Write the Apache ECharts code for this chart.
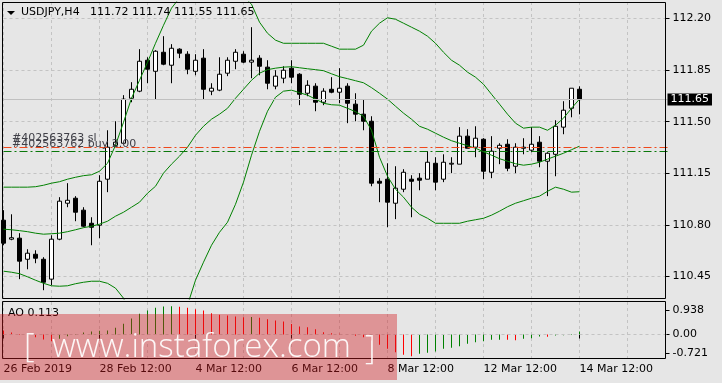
<!DOCTYPE html>
<html><head><meta charset="utf-8">
<script src="https://cdn.jsdelivr.net/npm/echarts@6/dist/echarts.min.js"></script>
<style>html,body{margin:0;padding:0;background:#e6e6e6;}#c{width:722px;height:383px;}</style>
</head><body><div id="c"></div>
<script>
// ---- data ----
const days = ['26 Feb 2019','27 Feb','28 Feb','1 Mar','4 Mar','5 Mar','6 Mar','7 Mar','8 Mar','11 Mar','12 Mar','13 Mar','14 Mar','15 Mar','18 Mar'];
const hours = ['00:00','04:00','08:00','12:00','16:00','20:00'];
const tickIndex = [0,12,24,36,48,60,72];
const tickText = ['26 Feb 2019','28 Feb 12:00','4 Mar 12:00','6 Mar 12:00','8 Mar 12:00','12 Mar 12:00','14 Mar 12:00'];
const priceTicks = [110.45,110.80,111.15,111.50,111.85,112.20];
const aoTicks = [-0.721,0,0.938];
const aoTickText = ['-0.721','0.00','0.938'];
const slLevel = 111.327;
const buyLevel = 111.300;

const open = [110.832,110.703,110.710,110.567,110.601,110.567,110.432,110.703,110.947,110.981,110.900,110.811,110.798,111.110,111.340,111.354,111.659,111.707,111.917,111.842,111.971,111.883,111.992,111.958,111.842,111.931,111.707,111.714,111.829,111.910,111.958,111.904,111.931,111.870,111.741,111.795,111.863,111.822,111.693,111.741,111.632,111.720,111.700,111.741,111.619,111.551,111.503,111.096,111.110,110.947,111.042,111.110,111.117,111.110,111.218,111.110,111.212,111.212,111.402,111.327,111.381,111.157,111.320,111.347,111.198,111.320,111.307,111.361,111.232,111.279,111.463,111.591,111.72];
const high = [110.900,110.872,110.744,110.635,110.628,110.581,110.730,110.988,111.083,110.995,110.920,110.852,111.137,111.442,111.503,111.680,111.768,111.992,111.937,111.985,112.080,112.026,111.998,111.978,111.958,111.992,111.761,111.937,111.937,111.992,111.978,112.141,111.951,111.917,111.849,111.876,111.917,111.829,111.781,111.761,111.727,111.802,111.863,111.761,111.693,111.653,111.537,111.117,111.218,111.198,111.178,111.137,111.151,111.300,111.259,111.279,111.259,111.463,111.449,111.469,111.388,111.402,111.354,111.381,111.354,111.388,111.463,111.402,111.293,111.510,111.639,111.727,111.74];
const low = [110.662,110.696,110.432,110.499,110.540,110.357,110.391,110.696,110.920,110.825,110.784,110.662,110.710,111.022,111.327,111.347,111.632,111.700,111.761,111.653,111.883,111.761,111.931,111.822,111.815,111.653,111.680,111.707,111.809,111.856,111.897,111.795,111.815,111.720,111.720,111.761,111.761,111.612,111.673,111.571,111.612,111.693,111.625,111.490,111.503,111.442,111.062,110.954,110.784,110.839,111.022,110.852,111.035,111.110,111.035,111.090,111.151,111.212,111.320,111.259,111.110,111.117,111.212,111.164,111.151,111.279,111.293,111.191,110.995,111.130,111.415,111.530,111.55];
const close = [110.676,110.713,110.554,110.608,110.574,110.411,110.703,110.961,110.967,110.886,110.791,110.784,111.096,111.327,111.361,111.653,111.720,111.910,111.856,111.978,111.890,111.998,111.965,111.856,111.917,111.720,111.727,111.822,111.917,111.971,111.904,111.917,111.876,111.761,111.809,111.849,111.802,111.686,111.747,111.632,111.707,111.700,111.727,111.625,111.551,111.503,111.083,111.083,110.954,111.049,111.157,111.096,111.103,111.225,111.090,111.225,111.218,111.402,111.320,111.388,111.164,111.300,111.340,111.184,111.327,111.327,111.347,111.232,111.286,111.469,111.578,111.727,111.65];

const bbUpper = [111.056,111.056,111.056,111.056,111.059,111.069,111.083,111.093,111.110,111.123,111.134,111.140,111.164,111.218,111.340,111.496,111.659,111.781,111.903,112.032,112.154,112.270,112.340,112.399,112.391,112.391,112.372,112.352,112.364,112.378,112.350,112.297,112.175,112.100,112.053,112.032,112.032,112.032,112.032,112.032,112.032,112.012,111.992,111.992,111.992,112.019,112.114,112.168,112.205,112.195,112.168,112.141,112.114,112.080,112.032,111.971,111.917,111.883,111.836,111.802,111.754,111.686,111.619,111.551,111.490,111.456,111.463,111.463,111.442,111.476,111.524,111.591,111.653];
const bbMiddle = [110.771,110.767,110.761,110.754,110.744,110.737,110.740,110.744,110.754,110.767,110.781,110.791,110.805,110.825,110.859,110.886,110.920,110.954,111.015,111.062,111.151,111.212,111.266,111.327,111.408,111.469,111.517,111.551,111.591,111.659,111.720,111.781,111.829,111.853,111.863,111.870,111.873,111.866,111.859,111.853,111.846,111.825,111.805,111.792,111.778,111.764,111.731,111.693,111.653,111.605,111.558,111.517,111.469,111.449,111.422,111.395,111.371,111.354,111.337,111.320,111.296,111.273,111.249,111.232,111.215,111.205,111.212,111.225,111.246,111.266,111.286,111.310,111.334];
const bbLower = [110.486,110.479,110.469,110.448,110.425,110.404,110.387,110.384,110.387,110.401,110.411,110.418,110.418,110.404,110.371,110.303,110.181,110.127,110.127,110.092,110.148,110.154,110.190,110.255,110.425,110.547,110.662,110.750,110.818,110.940,111.090,111.273,111.435,111.571,111.666,111.707,111.714,111.697,111.680,111.653,111.625,111.615,111.612,111.591,111.568,111.537,111.442,111.259,111.130,111.042,110.988,110.920,110.872,110.845,110.811,110.811,110.811,110.811,110.825,110.835,110.845,110.866,110.893,110.923,110.947,110.964,110.981,110.995,111.028,111.056,111.042,111.022,111.025];

const aoValues = [0.154,0.077,-0.020,-0.030,-0.103,-0.193,-0.257,-0.167,-0.064,0.020,0.077,0.116,0.142,0.154,0.257,0.412,0.618,0.798,0.927,1.030,1.081,1.090,1.075,1.030,0.978,0.927,0.824,0.759,0.734,0.695,0.669,0.672,0.643,0.592,0.541,0.502,0.410,0.309,0.283,0.206,0.090,0.051,0.026,-0.005,-0.051,-0.103,-0.232,-0.399,-0.553,-0.682,-0.785,-0.837,-0.746,-0.708,-0.656,-0.553,-0.515,-0.450,-0.360,-0.296,-0.257,-0.206,-0.200,-0.206,-0.219,-0.167,-0.142,-0.077,-0.090,-0.039,-0.026,-0.020,0.113];

// ---- categories: H4 bars starting 26 Feb 12:00, padded with future slots ----
const categories = [];
for (let d = 0; d < days.length; d++) {
  for (let h = 0; h < hours.length; h++) {
    if (d === 0 && h < 3) continue;
    categories.push(days[d] + ' ' + hours[h]);
  }
}
categories.length = 84;

const FONT = 'DejaVu Sans';
const GRID_COL = '#c3c3c3';
const last = open.length - 1;

function xAxisFor(gridIndex, showLabels) {
  return {
    type: 'category', gridIndex, data: categories, boundaryGap: false,
    axisLine: { show: false },
    axisTick: { show: showLabels, length: 4, interval: (i) => tickIndex.includes(i), lineStyle: { color: '#000' } },
    axisLabel: {
      show: showLabels, interval: (i) => tickIndex.includes(i),
      formatter: (v, i) => tickText[tickIndex.indexOf(i)] || '',
      align: 'left', margin: 6, color: '#000', fontSize: 11, fontFamily: FONT
    },
    splitLine: { show: true, interval: (i) => i % 6 === 0, lineStyle: { color: GRID_COL, type: [3, 3], width: 1 } }
  };
}

const chart = echarts.init(document.getElementById('c'), null, { renderer: 'canvas' });
const option = {
  animation: false,
  backgroundColor: '#e6e6e6',
  grid: [
    { left: 3.5, top: 2, width: 664, height: 297 },
    { left: 3.5, top: 302, width: 664, height: 56 }
  ],
  xAxis: [xAxisFor(0, false), xAxisFor(1, true)],
  yAxis: [
    {
      type: 'value', gridIndex: 0, position: 'right', offset: -2,
      min: 110.2974, max: 112.3119,
      axisLine: { show: false },
      axisTick: { show: true, length: 4, customValues: priceTicks, lineStyle: { color: '#000' } },
      axisLabel: { customValues: priceTicks, formatter: (v) => v.toFixed(2), margin: 7, color: '#000', fontSize: 11, fontFamily: FONT },
      splitLine: { show: true, lineStyle: { color: GRID_COL, type: [3, 3], width: 1 } }
    },
    {
      type: 'value', gridIndex: 1, position: 'right', offset: -2,
      min: -0.9073, max: 1.2548,
      axisLine: { show: false },
      axisTick: { show: true, length: 4, customValues: aoTicks, lineStyle: { color: '#000' } },
      axisLabel: { customValues: aoTicks, formatter: (v) => aoTickText[aoTicks.indexOf(v)] ?? v.toFixed(3), margin: 7, color: '#000', fontSize: 11, fontFamily: FONT },
      splitLine: { show: false }
    }
  ],
  series: [
    {
      type: 'candlestick', xAxisIndex: 0, yAxisIndex: 0, z: 3,
      data: open.map((o, i) => [o, close[i], low[i], high[i]]),
      barWidth: 4,
      itemStyle: { color: '#ffffff', color0: '#000000', borderColor: '#000000', borderColor0: '#000000', borderColorDoji: '#000000', borderWidth: 1 },
      markLine: {
        symbol: 'none', silent: true, animation: false, precision: 3,
        data: [
          { yAxis: close[last], lineStyle: { color: '#c0c0c0', type: 'solid', width: 1 },
            label: { show: true, position: 'end', distance: 0, formatter: close[last].toFixed(2), backgroundColor: '#000', color: '#fff', padding: [1, 3, 0, 3], fontSize: 11, fontFamily: FONT } },
          { yAxis: slLevel, lineStyle: { color: '#f0481c', type: [8, 3, 2, 3], width: 1 }, label: { show: false } },
          { yAxis: buyLevel, lineStyle: { color: '#0a780a', type: [8, 3, 2, 3], width: 1 }, label: { show: false } }
        ]
      }
    },
    { type: 'line', xAxisIndex: 0, yAxisIndex: 0, data: bbUpper, symbol: 'none', silent: true, z: 4, lineStyle: { color: '#008000', width: 1 } },
    { type: 'line', xAxisIndex: 0, yAxisIndex: 0, data: bbMiddle, symbol: 'none', silent: true, z: 4, lineStyle: { color: '#008000', width: 1 } },
    { type: 'line', xAxisIndex: 0, yAxisIndex: 0, data: bbLower, symbol: 'none', silent: true, z: 4, lineStyle: { color: '#008000', width: 1 } },
    {
      type: 'bar', xAxisIndex: 1, yAxisIndex: 1, barWidth: 1,
      data: aoValues.map((v, i) => ({ value: v, itemStyle: { color: (i > 0 && v > aoValues[i - 1]) ? '#008000' : '#ff0000' } })),
      markLine: { symbol: 'none', silent: true, animation: false, data: [{ yAxis: 0 }], lineStyle: { color: GRID_COL, type: [3, 3], width: 1 }, label: { show: false } }
    }
  ],
  graphic: [
    { type: 'polyline', silent: true, z: 50, shape: { points: [[2.5, 2.5], [2.5, 298.5], [665.5, 298.5], [665.5, 2.5], [2.5, 2.5]] }, style: { stroke: '#000', lineWidth: 1, fill: null } },
    { type: 'rect', silent: true, z: 50, shape: { x: 2.5, y: 301.5, width: 663, height: 57 }, style: { stroke: '#000', lineWidth: 1, fill: null } },
    { type: 'polygon', silent: true, z: 50, shape: { points: [[7, 11], [15, 11], [11, 15]] }, style: { fill: '#000' } },
    { type: 'text', silent: true, z: 50, x: 21, y: 12.5, style: { text: 'USDJPY,H4   ' + [open[last], high[last], low[last], close[last]].map(v => v.toFixed(2)).join(' '), fill: '#000', fontSize: 11, fontFamily: FONT, verticalAlign: 'middle' } },
    { type: 'text', silent: true, z: 50, x: 8, y: 313.3, style: { text: 'AO ' + aoValues[last].toFixed(3), fill: '#000', fontSize: 11, fontFamily: FONT, verticalAlign: 'middle' } },
    { type: 'text', silent: true, z: 50, x: 12, y: 138.5, style: { text: '#402563763 sl', fill: '#404048', fontSize: 11, fontFamily: FONT, verticalAlign: 'middle' } },
    { type: 'text', silent: true, z: 50, x: 12, y: 144, style: { text: '#402563762 buy 2.00', fill: '#404048', fontSize: 11, fontFamily: FONT, verticalAlign: 'middle' } },
    // watermark overlay
    { type: 'rect', silent: true, z: 90, shape: { x: 0, y: 314, width: 397, height: 66 }, style: { fill: 'rgba(210,25,30,0.4)' } },
    { type: 'text', silent: true, z: 91, x: 24, y: 347.5, style: { text: '[', fill: 'rgba(255,255,255,0.92)', fontSize: 33, fontWeight: 300, fontFamily: 'Open Sans', verticalAlign: 'middle' } },
    { type: 'text', silent: true, z: 91, x: 52, y: 347.5, style: { text: 'www.instaforex.com', fill: 'rgba(255,255,255,0.92)', fontSize: 33, fontWeight: 300, fontFamily: 'Open Sans', verticalAlign: 'middle' } },
    { type: 'text', silent: true, z: 91, x: 365, y: 350, style: { text: ']', fill: 'rgba(255,255,255,0.92)', fontSize: 33, fontWeight: 300, fontFamily: 'Open Sans', verticalAlign: 'middle' } }
  ]
};
chart.setOption(option);
</script>
</body></html>
